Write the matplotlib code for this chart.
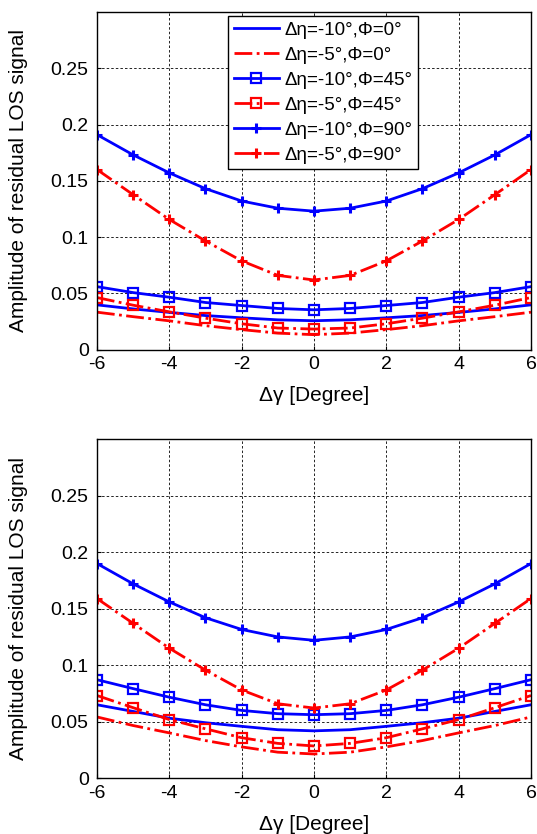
import matplotlib
matplotlib.use("Agg")
import matplotlib.pyplot as plt

plt.rcParams['font.family'] = ['Liberation Sans', 'DejaVu Sans']

x = [-6, -5, -4, -3, -2, -1, 0, 1, 2, 3, 4, 5, 6]

labels = ['\u0394\u03b7=-10\u00b0,\u03a6=0\u00b0', '\u0394\u03b7=-5\u00b0,\u03a6=0\u00b0',
          '\u0394\u03b7=-10\u00b0,\u03a6=45\u00b0', '\u0394\u03b7=-5\u00b0,\u03a6=45\u00b0',
          '\u0394\u03b7=-10\u00b0,\u03a6=90\u00b0', '\u0394\u03b7=-5\u00b0,\u03a6=90\u00b0']

# top panel
top_b0 = [0.0397, 0.0361, 0.0330, 0.0302, 0.0282, 0.0264, 0.0256, 0.0264, 0.0282, 0.0302, 0.0330, 0.0361, 0.0397]
top_r0 = [0.0332, 0.0292, 0.0255, 0.0212, 0.0177, 0.0146, 0.0132, 0.0146, 0.0177, 0.0212, 0.0255, 0.0292, 0.0332]
top_b45 = [0.0559, 0.0506, 0.0465, 0.0418, 0.0391, 0.0365, 0.0353, 0.0365, 0.0391, 0.0418, 0.0465, 0.0506, 0.0559]
top_r45 = [0.0462, 0.0394, 0.0335, 0.0279, 0.0229, 0.0191, 0.0182, 0.0191, 0.0229, 0.0279, 0.0335, 0.0394, 0.0462]
top_b90 = [0.191, 0.173, 0.157, 0.143, 0.132, 0.1256, 0.123, 0.1256, 0.132, 0.143, 0.157, 0.173, 0.191]
top_r90 = [0.160, 0.1376, 0.1156, 0.0965, 0.0788, 0.0659, 0.0618, 0.0659, 0.0788, 0.0965, 0.1156, 0.1376, 0.160]

# bottom panel
bot_b0 = [0.0649, 0.0590, 0.0530, 0.0490, 0.0458, 0.0428, 0.0418, 0.0428, 0.0458, 0.0490, 0.0530, 0.0590, 0.0649]
bot_r0 = [0.0541, 0.0465, 0.0400, 0.0332, 0.0276, 0.0229, 0.0213, 0.0229, 0.0276, 0.0332, 0.0400, 0.0465, 0.0541]
bot_b45 = [0.0871, 0.0792, 0.0716, 0.0649, 0.0599, 0.0570, 0.0561, 0.0570, 0.0599, 0.0649, 0.0716, 0.0792, 0.0871]
bot_r45 = [0.0731, 0.0623, 0.0518, 0.0436, 0.0357, 0.0307, 0.0284, 0.0307, 0.0357, 0.0436, 0.0518, 0.0623, 0.0731]
bot_b90 = [0.190, 0.172, 0.156, 0.142, 0.1316, 0.125, 0.122, 0.125, 0.1316, 0.142, 0.156, 0.172, 0.190]
bot_r90 = [0.159, 0.137, 0.115, 0.0956, 0.078, 0.0658, 0.062, 0.0658, 0.078, 0.0956, 0.115, 0.137, 0.159]

yticks = [0, 0.05, 0.1, 0.15, 0.2, 0.25]
xticks = [-6, -4, -2, 0, 2, 4, 6]


def draw_panel(ax, series, legend=False):
    b0, r0, b45, r45, b90, r90 = series
    lw = 2
    ax.plot(x, b0, '-', color='#0000ff', lw=lw, label=labels[0])
    ax.plot(x, r0, '-.', color='#ff0000', lw=lw, label=labels[1])
    ax.plot(x, b45, '-', color='#0000ff', lw=lw, marker='s', ms=7,
            mfc='none', mew=1.6, label=labels[2])
    ax.plot(x, r45, '-.', color='#ff0000', lw=lw, marker='s', ms=7,
            mfc='none', mew=1.6, label=labels[3])
    ax.plot(x, b90, '-', color='#0000ff', lw=lw, marker='+', ms=7,
            mew=2.2, label=labels[4])
    ax.plot(x, r90, '-.', color='#ff0000', lw=lw, marker='+', ms=7,
            mew=2.2, label=labels[5])

    ax.set_xlim(-6, 6)
    ax.set_ylim(0, 0.3)
    ax.set_xticks(xticks)
    ax.set_xticklabels([str(t) for t in xticks])
    ax.set_yticks(yticks)
    ax.set_yticklabels(['0', '0.05', '0.1', '0.15', '0.2', '0.25'])
    ax.grid(True, color='k', lw=0.6, linestyle=(0, (3, 2.5)))
    ax.tick_params(direction='in', length=3, labelsize=14)
    ax.tick_params(axis='x', pad=5)
    ax.tick_params(axis='y', pad=6)
    for s in ax.spines.values():
        s.set_linewidth(1.0)
    ax.set_xlabel('\u0394\u03b3 [Degree]', fontsize=15)
    ax.xaxis.set_label_coords(0.5, -0.108)
    ax.set_ylabel('Amplitude of residual LOS signal', fontsize=15)
    ax.yaxis.set_label_coords(-0.158, 0.5)
    if legend:
        leg = ax.legend(loc='upper left', bbox_to_anchor=(0.302, 0.988),
                        borderaxespad=0, fancybox=False, framealpha=1,
                        edgecolor='k', fontsize=13.5, handlelength=2.4,
                        labelspacing=0.42, handletextpad=0.3,
                        borderpad=0.3)
        leg.get_frame().set_linewidth(1.0)


fig = plt.figure(figsize=(5.37, 8.34), dpi=100)
ax1 = fig.add_axes([0.1806, 0.5809, 0.8082, 0.4047])
ax2 = fig.add_axes([0.1806, 0.0671, 0.8082, 0.4061])

draw_panel(ax1, [top_b0, top_r0, top_b45, top_r45, top_b90, top_r90], legend=True)
draw_panel(ax2, [bot_b0, bot_r0, bot_b45, bot_r45, bot_b90, bot_r90])

fig.savefig('out.png', dpi=100)
